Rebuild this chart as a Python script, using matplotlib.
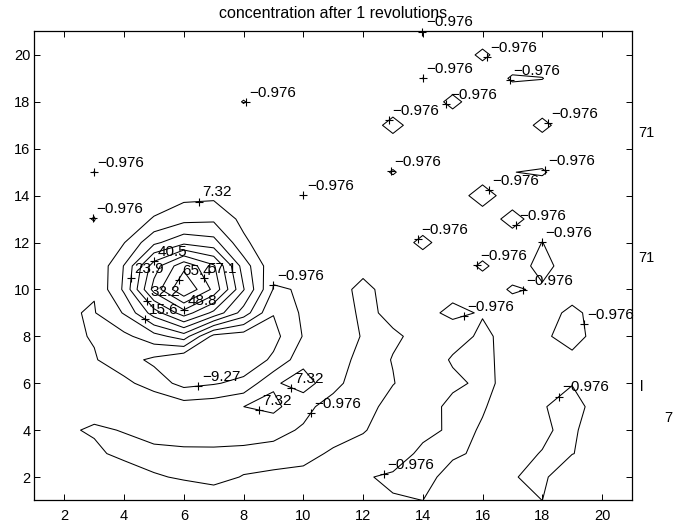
import numpy as np
import matplotlib
matplotlib.use("Agg")
import matplotlib.pyplot as plt

plt.rcParams['font.family'] = ['Liberation Sans', 'DejaVu Sans']

x_nodes = list(range(1, 22))
y_nodes = list(range(1, 22))

# concentration, one row per y = 1 .. 21, columns x = 1 .. 21
conc = [
    [0, 0, 0, 0, 0, 2.5, 1, 0, 0, 0, 0, 0, -0.5, -0.98, 0, 0, 0, -0.98, 0, 0, 0],
    [0, 0, 0, 3.7, -0.5, -1.5, -2, -0.8, -0.3, 0.4, 0, -0.4, -2, -1.5, -0.4, 0, -0.85, -1.5, 1.1, 0, 0],
    [0, 0, 0.5, -3, -3, -3, -2.5, -2.5, -2.5, -2.5, -0.3, 0.3, 2.5, -2.5, -1.2, -0.7, -0.15, -1.1, -1.05, 0, 0],
    [0, 0, -1.8, -0.7, 2, 4, 3, 1.9, 0.4, -1.5, -3, -1.2, 0.5, 0.8, -2, -0.7, 0, -0.4, -2, 3, 0],
    [0, 0, 1.5, 3, 6.5, 3, 4, 7.3, 10, 0.4, -3, -3.5, 1.4, 1.6, -2.5, -1.2, 0.4, -0.7, -2.5, 1, 0],
    [0, 0, 0.5, 1.2, -5, -12, -10, -7, 5.8, 12, 0.6, -4, -1.2, 2, 0.1, -2, 0.4, 0, -0.8, 0, 0],
    [0, 0, -0.3, -6, -11, -17.5, -16, -15, -7.8, 4.3, 2, -3, -0.8, 2.2, -1.5, -2, 0.6, 0, -0.4, 0, 0],
    [0, 1, -1.6, -3, 4, 11.5, -12, -14, -12, -0.5, 1, -1.2, -1.5, 0, 0.9, -1.8, 0.5, -0.6, -1.8, 0, 0],
    [0, -0.35, -1.45, 8, 28, 45, 30, 12, -8.9, 0.5, 2.2, -2, 0, 0, -1.7, -0.7, 0, 0, -1.5, 0, 0],
    [0, 0, -0.5, 17, 52, 73.7, 55, 24.4, -1.5, -0.6, 0.7, -2, 0.6, 0, 0, 0, -1.2, -0.7, 0.1, 0, 0],
    [0, 0, -0.3, 16, 45, 63, 50, 20, 1.1, 0, 0, 0.2, 0, 0, 0, -1.25, 0, -1.6, 0, 0, 0],
    [0, 0, 0, 7, 22, 30, 27, 9, 1, 0, 0, 0, 0, -1.4, 0, 0, 0, -1.0, 0, 0, 0],
    [0, 0, -1.08, 2, 8, 13, 14, 5, 0.5, 0, 0, 0, 0, 0, 0, 0, -1.6, 0, 0, 0, 0],
    [0, 0, 0, 0.5, 2.5, 5, 5.5, 2, 0, -0.99, 0, 0, 0, 0, 0, -1.8, 0, 0, 0, 0, 0],
    [0, 0, -1.0, 0, 0, 0, 0, 0, 0, 0, 0, 0, -1.1, 0, 0, 0, -0.95, -1.15, 0, 0, 0],
    [0, 0, 0, 0, 0, 0, 0, 0, 0, 0, 0, 0, 0, 0, 0, 0, 0, 0, 0, 0, 0],
    [0, 0, 0, 0, 0, 0, 0, 0, 0, 0, 0, 0, -1.5, 0, 0, 0, 0, -1.4, 0, 0, 0],
    [0, 0, 0, 0, 0, 0, 0, -1.05, 0, 0, 0, 0, 0, 0, -1.4, 0, 0, 0, 0, 0, 0],
    [0, 0, 0, 0, 0, 0, 0, 0, 0, 0, 0, 0, 0, -0.99, 0, 0, -1.15, -1.02, 0, 0, 0],
    [0, 0, 0, 0, 0, 0, 0, 0, 0, 0, 0, 0, 0, 0, 0, -1.3, 0, 0, 0, 0, 0],
    [0, 0, 0, 0, 0, 0, 0, 0, 0, 0, 0, 0, 0, -0.99, 0, 0, 0, 0, 0, 0, 0],
]

levels = [-9.27, -0.976, 7.32, 15.6, 23.9, 32.2, 40.5, 48.8, 57.1, 65.4]

# where the labels sit: (level, x, y)
label_spots = [
    (7.32, 6.5, 13.8), (40.5, 4.94, 11.25), (23.9, 4.27, 10.5), (65.4, 5.85, 10.4),
    (57.1, 6.75, 10.5), (32.2, 4.73, 9.5), (15.6, 4.69, 8.69), (48.8, 5.88, 8.88),
    (-0.976, 9.0, 10.2), (-9.27, 6.49, 5.88), (7.32, 9.6, 5.82), (7.32, 8.5, 4.86),
    (-0.976, 10.29, 4.69), (-0.976, 12.68, 2.16), (-0.976, 18.54, 5.45),
    (-0.976, 15.41, 8.81), (-0.976, 17.36, 9.97), (-0.976, 19.32, 8.52),
    (-0.976, 3.0, 15.05), (-0.976, 2.93, 13.07), (-0.976, 8.06, 18.0),
    (-0.976, 10.0, 14.02), (-0.976, 13.97, 20.98), (-0.976, 16.12, 19.92),
    (-0.976, 14.0, 19.02), (-0.976, 16.92, 18.95), (-0.976, 14.82, 17.93),
    (-0.976, 12.88, 17.19), (-0.976, 18.1, 17.0), (-0.976, 12.94, 15.02),
    (-0.976, 18.09, 15.09), (-0.976, 16.14, 14.16), (-0.976, 17.2, 12.67),
    (-0.976, 13.82, 12.18), (-0.976, 17.95, 12.03), (-0.976, 15.75, 11.1),
]

# clipped text fragments right of the frame (figure pixels)
edge_texts = [("71", 646, 133), ("71", 646, 258), ("l", 642, 387), ("7", 668, 418)]

title = "concentration after 1 revolutions"


def nearest_on_path(path, px, py):
    best = None
    for poly in path.to_polygons(closed_only=False):
        if len(poly) < 2:
            continue
        a = poly[:-1]
        b = poly[1:]
        d = b - a
        dd = (d ** 2).sum(axis=1)
        dd[dd == 0] = 1e-12
        t = ((px - a[:, 0]) * d[:, 0] + (py - a[:, 1]) * d[:, 1]) / dd
        t = np.clip(t, 0, 1)
        q = a + d * t[:, None]
        dist = (q[:, 0] - px) ** 2 + (q[:, 1] - py) ** 2
        i = dist.argmin()
        if best is None or dist[i] < best[0]:
            best = (dist[i], q[i])
    return best


fig = plt.figure(figsize=(6.75, 5.29), dpi=100)
ax = fig.add_axes([0.0511, 0.0539, 0.885, 0.8866])

X, Y = np.meshgrid(x_nodes, y_nodes)
Z = np.array(conc, dtype=float)
cs = ax.contour(X, Y, Z, levels=levels, colors='k', linewidths=0.75,
                linestyles='solid')
paths = cs.get_paths()

for lev, lx, ly in label_spots:
    k = levels.index(lev)
    hit = nearest_on_path(paths[k], lx, ly) if k < len(paths) else None
    px, py = (hit[1] if hit is not None else (lx, ly))
    ax.plot(px, py, marker='+', color='k', markersize=6, mew=0.8, clip_on=False)
    txt = f"{lev:.3g}".replace('-', '\u2212')
    ax.annotate(txt, (px, py), xytext=(2.5, 1.5), textcoords='offset points',
                ha='left', va='bottom', fontsize=11, annotation_clip=False)

ax.set_xlim(1, 21)
ax.set_ylim(1, 21)
ax.set_xticks(range(2, 21, 2))
ax.set_yticks(range(2, 21, 2))
ax.tick_params(direction='in', top=True, right=True, length=4, width=0.7,
               labelsize=10.5)
ax.tick_params(axis='x', pad=6)
ax.tick_params(axis='y', pad=3)
for s in ax.spines.values():
    s.set_linewidth(0.9)
ax.set_title(title, fontsize=11.5, pad=10)

for t, fx, fy in edge_texts:
    fig.text(fx / 675, 1 - fy / 529, t, ha='center', va='center', fontsize=10.5)

fig.savefig("out.png", dpi=100)
